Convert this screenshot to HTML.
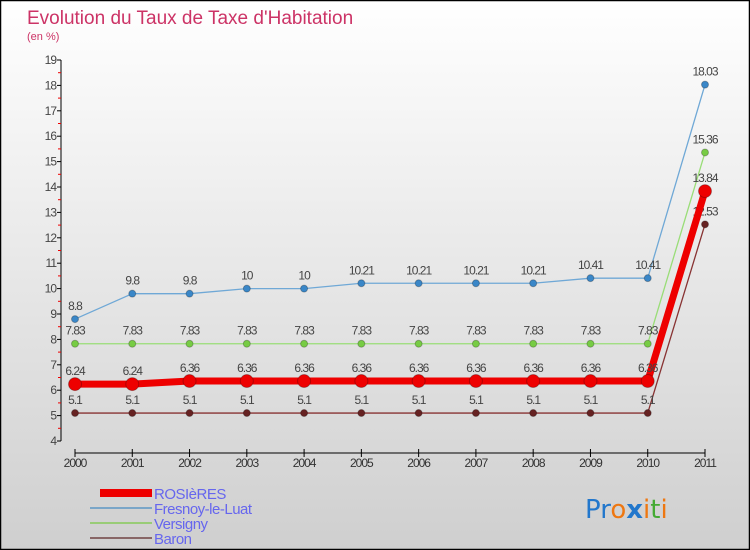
<!DOCTYPE html>
<html><head><meta charset="utf-8"><style>
body{margin:0}
#c{position:relative;width:750px;height:550px;overflow:hidden;font-family:"Liberation Sans",sans-serif}
</style></head><body>
<div id="c">
<svg width="750" height="550" xmlns="http://www.w3.org/2000/svg" id="svg">
<defs><linearGradient id="bg" x1="0" y1="0" x2="0" y2="1"><stop offset="0" stop-color="#ffffff"/><stop offset="1" stop-color="#cfcfcf"/></linearGradient></defs>
<rect x="0.5" y="0.5" width="749" height="549" fill="url(#bg)" stroke="#000" stroke-width="1.5"/>
<text x="27" y="24" font-size="19" fill="#cc3366">Evolution du Taux de Taxe d'Habitation</text>
<text x="27" y="40" font-size="11" fill="#cc3366">(en %)</text>
<g id="axes"></g><g id="series"></g>
<g>
<rect x="100" y="489" width="52" height="8" fill="#ee0000"/>
<text x="154" y="499" font-size="15" fill="#6666ee" letter-spacing="-0.5">ROSIèRES</text>
<rect x="90" y="507" width="62" height="2" fill="#7aa6c8"/>
<text x="154" y="514" font-size="15" fill="#6666ee" letter-spacing="-0.5">Fresnoy-le-Luat</text>
<rect x="90" y="522" width="62" height="2" fill="#99cc77"/>
<text x="154" y="529" font-size="15" fill="#6666ee" letter-spacing="-0.5">Versigny</text>
<rect x="90" y="537" width="62" height="2" fill="#886666"/>
<text x="154" y="544" font-size="15" fill="#6666ee" letter-spacing="-0.5">Baron</text>
</g>
<g font-size="26" font-family="'DejaVu Sans',sans-serif">
<text x="585" y="518"><tspan fill="#2277cc">Pr</tspan><tspan fill="#ee7711">o</tspan><tspan fill="#2277cc" font-weight="bold">x</tspan><tspan fill="#ee7711">i</tspan><tspan fill="#44aa33">t</tspan><tspan fill="#ee7711">i</tspan></text>
</g>
</svg>
</div>
<script>
const years=[2000,2001,2002,2003,2004,2005,2006,2007,2008,2009,2010,2011];
const rosieres=[6.24,6.24,6.36,6.36,6.36,6.36,6.36,6.36,6.36,6.36,6.36,13.84];
const fresnoy=[8.8,9.8,9.8,10,10,10.21,10.21,10.21,10.21,10.41,10.41,18.03];
const versigny=[7.83,7.83,7.83,7.83,7.83,7.83,7.83,7.83,7.83,7.83,7.83,15.36];
const baron=[5.1,5.1,5.1,5.1,5.1,5.1,5.1,5.1,5.1,5.1,5.1,12.53];
const yTicks=[4,5,6,7,8,9,10,11,12,13,14,15,16,17,18,19];
const NS="http://www.w3.org/2000/svg";
const X=i=>75+i*(630/(years.length-1));
const Y=v=>441-(v-4)*25.4;
function mk(t,a,p){const e=document.createElementNS(NS,t);for(const k in a)e.setAttribute(k,a[k]);p.appendChild(e);return e;}
const ax=document.getElementById('axes');
let l=mk('line',{x1:61,y1:Y(19),x2:61,y2:Y(4),stroke:'#000'},ax);


yTicks.forEach(v=>{
 mk('line',{x1:57,y1:Y(v),x2:61,y2:Y(v),stroke:'#000'},ax);
 if(v<19)mk('line',{x1:58,y1:Y(v+0.5),x2:61,y2:Y(v+0.5),stroke:'#e00'},ax);
 const t=mk('text',{x:56,y:Y(v)+4,'font-size':12,fill:'#444','text-anchor':'end','letter-spacing':'-1'},ax);t.textContent=v;
 
 
});
l=mk('line',{x1:X(0),y1:453,x2:X(11),y2:453,stroke:'#000'},ax);


years.forEach((y,i)=>{
 mk('line',{x1:X(i),y1:449,x2:X(i),y2:457,stroke:'#000'},ax);
 const t=mk('text',{x:X(i),y:467,'font-size':12,fill:'#333','text-anchor':'middle','letter-spacing':'-1'},ax);t.textContent=y;
 
 
});
const sg=document.getElementById('series');
function draw(name,vals,color,w,r,dot){
 const g=mk('g',{},sg);
 
 
 mk('polyline',{points:vals.map((v,i)=>X(i)+','+Y(v)).join(' '),fill:'none',stroke:color,'stroke-width':w},g);
 vals.forEach((v,i)=>{
  const c=mk('circle',{cx:X(i),cy:Y(v),r:r,fill:dot,stroke:'rgba(0,0,0,0.25)'},g);
  
  
  const t=mk('text',{x:X(i),y:Y(v)-9,'font-size':12,fill:'#444','text-anchor':'middle','letter-spacing':'-1'},g);t.textContent=v;
  
  
 });
}
draw('fresnoy',fresnoy,'#6fa8d6',1.3,3.5,'#3a87c8');
draw('versigny',versigny,'#99dd77',1.3,3.5,'#77cc44');
draw('baron',baron,'#883333',1.3,3.5,'#662222');
draw('rosieres',rosieres,'#ee0000',7,6.5,'#ee0000');
</script>
</body></html>
